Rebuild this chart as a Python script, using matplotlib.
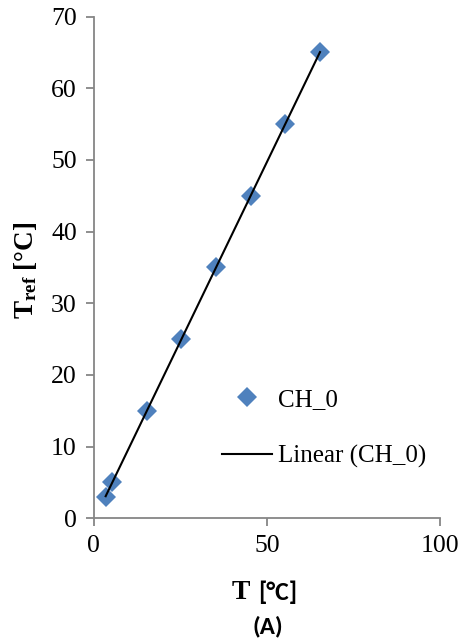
import numpy as np
import matplotlib
matplotlib.use("Agg")
import matplotlib.pyplot as plt
from matplotlib.lines import Line2D

# Measured channel temperature vs. reference temperature
t_meas = [3.5, 5.4, 15.4, 25.3, 35.2, 45.3, 55.3, 65.3]
t_ref = [3, 5, 15, 25, 35, 45, 55, 65]
series_name = "CH_0"
x_ticks = [0, 50, 100]
y_ticks = [0, 10, 20, 30, 40, 50, 60, 70]

serif = "Liberation Serif"
sans = ["Carlito", "Liberation Sans", "DejaVu Sans"]
blue = "#4F81BD"
axis_gray = "#868686"

plt.rcParams["mathtext.fontset"] = "custom"
plt.rcParams["mathtext.rm"] = serif
plt.rcParams["mathtext.it"] = serif + ":italic"
plt.rcParams["mathtext.bf"] = serif + ":bold"

fig = plt.figure(figsize=(4.63, 6.41), dpi=100)
ax = fig.add_axes([0.202, 0.1914, 0.749, 0.7826])

ax.plot(t_meas, t_ref, linestyle="none", marker="D", markersize=10,
        color=blue, markeredgewidth=0, zorder=2, label=series_name)

# Least-squares linear trend line over the data range
slope, intercept = np.polyfit(t_meas, t_ref, 1)
xs = np.array([min(t_meas), max(t_meas)])
ax.plot(xs, slope * xs + intercept, color="black", linewidth=1.5, zorder=3,
        label="Linear (%s)" % series_name)

ax.set_xlim(x_ticks[0], x_ticks[-1])
ax.set_ylim(y_ticks[0], y_ticks[-1])
ax.set_xticks(x_ticks)
ax.set_yticks(y_ticks)
for s in ("top", "right"):
    ax.spines[s].set_visible(False)
for s in ("left", "bottom"):
    ax.spines[s].set_color(axis_gray)
    ax.spines[s].set_linewidth(1.3)
ax.tick_params(direction="out", length=6, width=1.3, color=axis_gray,
               labelsize=18.5, pad=6)
for lab in ax.get_xticklabels() + ax.get_yticklabels():
    lab.set_fontfamily(serif)

handles = [Line2D([], [], linestyle="none", marker="D", markersize=10,
                  color=blue, markeredgewidth=0),
           Line2D([], [], color="black", linewidth=1.5)]
ax.legend(handles, [series_name, "Linear (%s)" % series_name],
          loc="upper left", bbox_to_anchor=(0.37, 0.259), frameon=False,
          borderpad=0, borderaxespad=0, handlelength=2.0, handletextpad=0.25,
          labelspacing=1.35, prop={"family": serif, "size": 18})

# Axis titles
fig.text(0.054, 0.578, r"$\mathbf{T_{ref}}$ [°C]", rotation=90, ha="center",
         va="center", fontsize=19.5, fontweight="bold", fontfamily=serif)
fig.text(0.541, 0.076, "T", ha="right", va="center", fontsize=20,
         fontweight="bold", fontfamily=serif)
fig.text(0.558, 0.076, "[°C]", ha="left", va="center", fontsize=18.5,
         fontweight="bold", fontfamily=sans)
fig.text(0.578, 0.023, "(A)", ha="center", va="center", fontsize=18,
         fontweight="bold", fontfamily=sans)

fig.savefig("out.png", dpi=100)
